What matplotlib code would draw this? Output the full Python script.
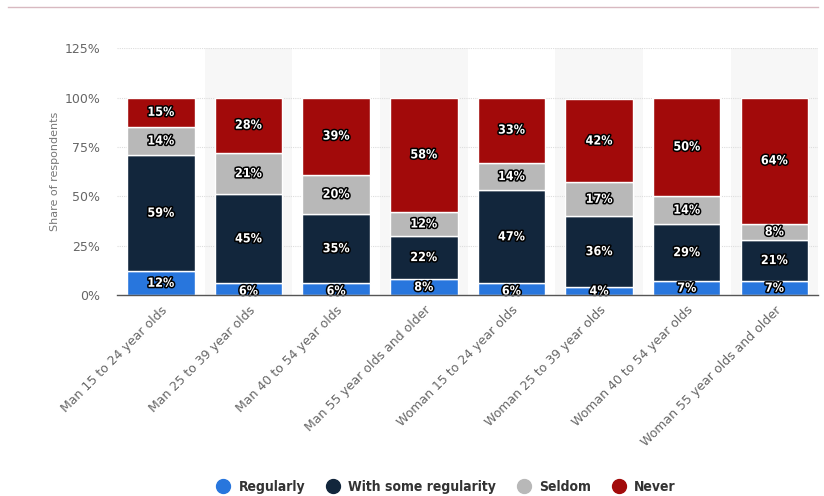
import matplotlib
matplotlib.use('Agg')
from matplotlib import pyplot as plt
from matplotlib.lines import Line2D
import matplotlib.patheffects as pe
import numpy as np

categories = ['Man 15 to 24 year olds', 'Man 25 to 39 year olds', 'Man 40 to 54 year olds',
              'Man 55 year olds and older', 'Woman 15 to 24 year olds', 'Woman 25 to 39 year olds',
              'Woman 40 to 54 year olds', 'Woman 55 year olds and older']
series_names = ['Regularly', 'With some regularity', 'Seldom', 'Never']
regularly = [12, 6, 6, 8, 6, 4, 7, 7]
some_regularity = [59, 45, 35, 22, 47, 36, 29, 21]
seldom = [14, 21, 20, 12, 14, 17, 14, 8]
never = [15, 28, 39, 58, 33, 42, 50, 64]
colors = ['#2876dd', '#12263c', '#b8b8b8', '#a20a0a']
y_ticks = [0, 25, 50, 75, 100, 125]

fig = plt.figure(figsize=(8.24, 4.96), dpi=100)
ax = fig.add_axes([0.142, 0.405, 0.851, 0.498])

# thin line at the top of the image
fig.add_artist(Line2D([0.01, 0.993], [0.986, 0.986], color='#d8b9c1', lw=1))

x = np.arange(len(categories))
ax.set_xlim(-0.5, len(categories) - 0.5)
ax.set_ylim(0, 125)

# alternating shaded columns
for i in x:
    if i % 2 == 1:
        ax.axvspan(i - 0.5, i + 0.5, color='#f7f7f7', zorder=0, lw=0)

for t in y_ticks[1:]:
    ax.axhline(t, color='#dddddd', lw=0.8, ls=(0, (1, 1)), zorder=1)

bottom = np.zeros(len(categories))
for name, vals, c in zip(series_names, [regularly, some_regularity, seldom, never], colors):
    vals = np.array(vals, dtype=float)
    ax.bar(x, vals, 0.77, bottom=bottom, color=c, edgecolor='white', linewidth=1, zorder=2)
    for xi, b, v in zip(x, bottom, vals):
        yl = b + v / 2
        if v < 7:
            yl = b + 2
        ax.text(xi, yl, f'{int(v)}%', ha='center', va='center', color='white',
                fontsize=9, fontweight='bold', fontstretch='condensed', zorder=4,
                path_effects=[pe.withStroke(linewidth=2.2, foreground='black')])
    bottom += vals

ax.set_yticks(y_ticks)
ax.set_yticklabels([f'{t}%' for t in y_ticks], color='#666666', fontsize=9)
ax.set_xticks(x)
ax.set_xticklabels(categories, rotation=45, ha='right', rotation_mode='anchor',
                   color='#666666', fontsize=9)
ax.tick_params(axis='both', length=0, pad=6)
ax.tick_params(axis='y', pad=12)
ax.set_ylabel('Share of respondents', color='#777777', fontsize=8, labelpad=3)

for s in ['top', 'right', 'left']:
    ax.spines[s].set_visible(False)
ax.spines['bottom'].set_color('#555555')
ax.spines['bottom'].set_linewidth(1)
ax.spines['bottom'].set_zorder(5)

handles = [Line2D([], [], marker='o', ls='', markersize=10, markerfacecolor=c, markeredgecolor=c)
           for c in colors]
fig.legend(handles, series_names, loc='center', bbox_to_anchor=(0.537, 0.018), ncol=4,
           frameon=False, handletextpad=0.1, columnspacing=1.0,
           labelcolor='#333333',
           prop={'weight': 'bold', 'size': 10, 'stretch': 'condensed'})

fig.savefig('out.png', dpi=100)
